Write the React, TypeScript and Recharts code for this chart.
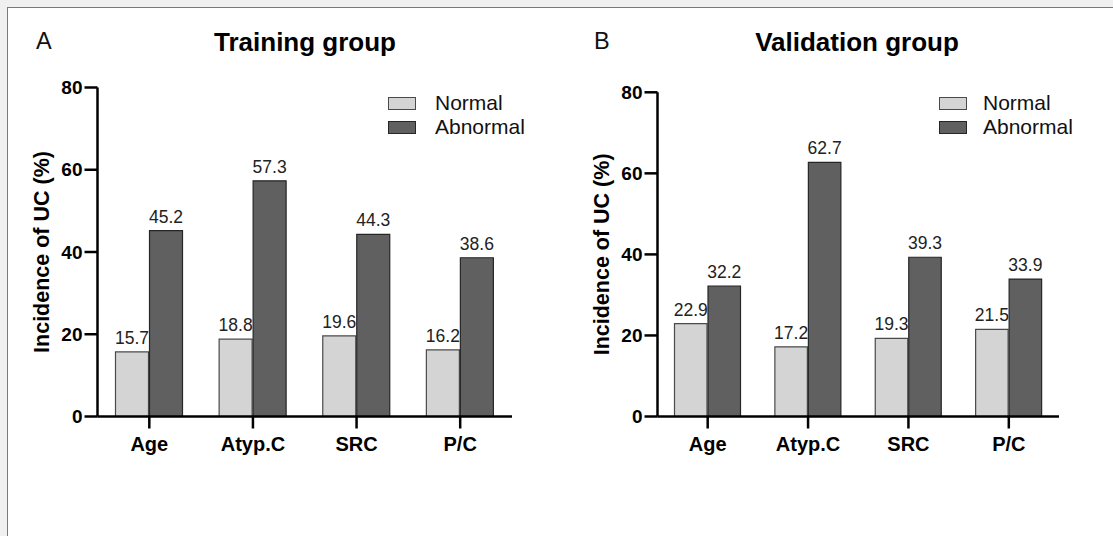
import React from 'react'
import { Bar, BarChart, LabelList, XAxis, YAxis } from 'recharts'

// UC incidence by risk factor, normal vs abnormal
const categories = ['Age', 'Atyp.C', 'SRC', 'P/C']
const trainingNormal = [15.7, 18.8, 19.6, 16.2]
const trainingAbnormal = [45.2, 57.3, 44.3, 38.6]
const validationNormal = [22.9, 17.2, 19.3, 21.5]
const validationAbnormal = [32.2, 62.7, 39.3, 33.9]
const yTicks = [0, 20, 40, 60, 80]
const seriesNames = ['Normal', 'Abnormal']

const FONT = '"Liberation Sans", Arial, Helvetica, sans-serif'
const NORMAL_FILL = '#d4d4d4'
const ABNORMAL_FILL = '#606060'

interface Row {
  name: string
  normal: number
  abnormal: number
}

const toRows = (normal: number[], abnormal: number[]): Row[] =>
  categories.map((name, i) => ({ name, normal: normal[i], abnormal: abnormal[i] }))

interface GroupChartProps {
  data: Row[]
  left: number
  width: number
  top: number
  right: number
  barSize: number
  labelX: number
}

function GroupChart({ data, left, width, top, right, barSize, labelX }: GroupChartProps) {
  const height = 536
  return (
    <div style={{ position: 'absolute', left, top: 0 }}>
      <BarChart
        width={width}
        height={height}
        data={data}
        margin={{ top, right, bottom: 59.5, left: 0 }}
        barGap={1}
        barSize={barSize}
      >
        <XAxis
          dataKey="name"
          height={60}
          tickSize={12}
          tickMargin={8}
          axisLine={{ stroke: '#000', strokeWidth: 2.5 }}
          tickLine={{ stroke: '#000', strokeWidth: 2.5 }}
          tick={{ fontSize: 20, fontWeight: 700, fill: '#000', fontFamily: FONT }}
          interval={0}
        />
        <YAxis
          width={97.5}
          domain={[0, 80]}
          ticks={yTicks}
          tickSize={13}
          tickMargin={2}
          axisLine={{ stroke: '#000', strokeWidth: 2.5 }}
          tickLine={{ stroke: '#000', strokeWidth: 2.5 }}
          tick={{ fontSize: 19, fontWeight: 700, fill: '#000', fontFamily: FONT }}
          label={{
            value: 'Incidence of UC (%)',
            angle: -90,
            position: 'insideLeft',
            offset: labelX,
            style: { textAnchor: 'middle', fontSize: 21.5, fontWeight: 700, fill: '#000', fontFamily: FONT },
          }}
        />
        <Bar dataKey="normal" name={seriesNames[0]} fill={NORMAL_FILL} stroke="#4a4a4a" strokeWidth={1.2} isAnimationActive={false}>
          <LabelList dataKey="normal" position="top" offset={8} style={{ fontSize: 17.5, fill: '#222', fontFamily: FONT }} />
        </Bar>
        <Bar dataKey="abnormal" name={seriesNames[1]} fill={ABNORMAL_FILL} stroke="#262626" strokeWidth={1.2} isAnimationActive={false}>
          <LabelList dataKey="abnormal" position="top" offset={8} style={{ fontSize: 17.5, fill: '#222', fontFamily: FONT }} />
        </Bar>
      </BarChart>
    </div>
  )
}

function GroupLegend({ left, textLeft }: { left: number; textLeft: number }) {
  const fills = [NORMAL_FILL, ABNORMAL_FILL]
  return (
    <div style={{ position: 'absolute', left, top: 91, fontFamily: FONT }}>
      {seriesNames.map((name, i) => (
        <div key={name} style={{ display: 'flex', alignItems: 'center', height: 24 }}>
          <div
            style={{
              width: 28,
              height: 13,
              boxSizing: 'border-box',
              border: `1.2px solid ${i === 0 ? '#4a4a4a' : '#262626'}`,
              background: fills[i],
            }}
          />
          <span style={{ marginLeft: textLeft - left - 28, fontSize: 21, color: '#111', lineHeight: '24px' }}>
            {name}
          </span>
        </div>
      ))}
    </div>
  )
}

export default function App() {
  return (
    <div
      style={{
        position: 'fixed',
        left: 0,
        top: 0,
        width: 1113,
        height: 536,
        background: '#f0f0f0',
        overflow: 'hidden',
        fontFamily: FONT,
      }}
    >
      <div
        style={{
          position: 'absolute',
          left: 7,
          top: 7,
          width: 1200,
          height: 600,
          background: '#fff',
          borderTop: '1px solid #7a7a7a',
          borderLeft: '1px solid #7a7a7a',
        }}
      />
      <GroupChart data={toRows(trainingNormal, trainingAbnormal)} left={0} width={560} top={87.5} right={48} barSize={33} labelX={41.5} />
      <GroupChart data={toRows(validationNormal, validationAbnormal)} left={560} width={553} top={92.3} right={54} barSize={32.5} labelX={41} />
      <GroupLegend left={388} textLeft={435} />
      <GroupLegend left={939} textLeft={983} />
      <svg width={1113} height={536} style={{ position: 'absolute', left: 0, top: 0, pointerEvents: 'none' }}>
        <text x={36} y={48.5} fontSize={23.5} fill="#111" fontFamily={FONT}>A</text>
        <text x={305} y={51} fontSize={26} fontWeight={700} textAnchor="middle" fill="#000" fontFamily={FONT}>Training group</text>
        <text x={594} y={48.5} fontSize={23.5} fill="#111" fontFamily={FONT}>B</text>
        <text x={857} y={51} fontSize={26} fontWeight={700} textAnchor="middle" fill="#000" fontFamily={FONT}>Validation group</text>
      </svg>
    </div>
  )
}
